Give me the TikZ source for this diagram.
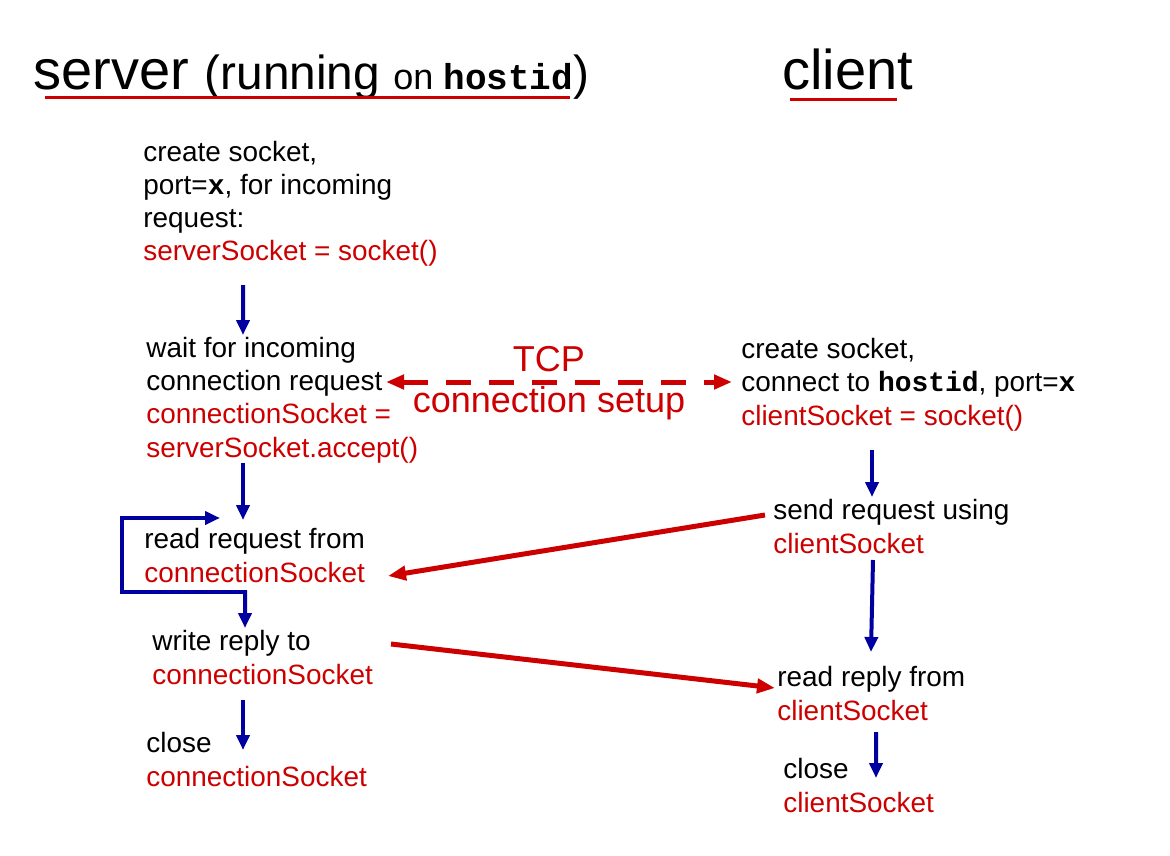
\documentclass[tikz,border=0pt]{standalone}
\usepackage{fontspec}
\setmainfont{Liberation Sans}
\setmonofont{Liberation Mono}
\usetikzlibrary{arrows.meta}

\definecolor{sockred}{RGB}{204,0,0}
\definecolor{flowblue}{RGB}{0,0,160}
\newcommand{\bodyfont}{\fontsize{15.9}{18.8}\selectfont}
\newcommand{\sk}[1]{\textcolor{sockred}{#1}}
\newcommand{\code}[1]{\textbf{\ttfamily #1}}

\begin{document}
\begin{tikzpicture}[every node/.style={font=\bodyfont, inner sep=0pt, anchor=base west, align=left},
  flow/.style={-{Triangle[length=0.3cm,width=0.26cm]}, draw=flowblue, line width=0.08cm},
  msg/.style={-{Triangle[length=0.36cm,width=0.28cm]}, draw=sockred, line width=0.1cm}]
  \useasboundingbox (0,0) rectangle (23.4,-17.12);

  % Titles
  \node (srv) at (0.66,-1.80) {\fontsize{31.9}{36}\selectfont server {\fontsize{27.2}{30}\selectfont (running {\fontsize{20.5}{24}\selectfont on \code{hostid}})}};
  \node (cli) at (15.64,-1.80) {\fontsize{31.9}{36}\selectfont client};
  \draw[sockred, line width=0.06cm] ([shift={(0.24,-0.16)}]srv.base west) -- ++(10.5,0);
  \draw[sockred, line width=0.06cm] ([shift={(0.16,-0.20)}]cli.base west) -- ++(2.14,0);

  % Server side (base = last line)
  \node (b1) at (2.86,-5.22) {create socket,\\port=\code{x}, for incoming\\request:\\\sk{serverSocket = socket()}};
  \node (b2) at (2.92,-9.14) {wait for incoming\\connection request\\\sk{connectionSocket =}\\\sk{serverSocket.accept()}};
  \node (b3) at (2.88,-11.64) {read request from\\\sk{connectionSocket}};
  \node (b4) at (3.04,-13.68) {write reply to\\\sk{connectionSocket}};
  \node (b5) at (2.92,-15.72) {close\\\sk{connectionSocket}};

  % Client side
  \node (c1) at (14.82,-8.50) {create socket,\\connect to \code{hostid}, port=\code{x}\\\sk{clientSocket = socket()}};
  \node (c2) at (15.46,-11.06) {send request using\\\sk{clientSocket}};
  \node (c3) at (15.54,-14.40) {read reply from\\\sk{clientSocket}};
  \node (c4) at (15.66,-16.24) {close\\\sk{clientSocket}};

  \node[anchor=base, align=center, text=sockred, font=\fontsize{20.5}{22.8}\selectfont] (tcp) at (10.98,-8.24) {TCP\\connection setup};

  \draw[flow] ([shift={(2.00,-0.48)}]b1.base west) -- ([shift={(1.94,2.44)}]b2.base west);
  \draw[flow] ([shift={(1.94,-0.12)}]b2.base west) -- ([shift={(1.98,1.24)}]b3.base west);
  \draw[flow] ([shift={(2.02,-0.20)}]b3.base west) -- ++(-2.46,0) |- ([shift={(1.52,1.28)}]b3.base west);
  \draw[flow] ([shift={(2.02,-0.16)}]b3.base west) -- ([shift={(1.86,1.12)}]b4.base west);
  \draw[flow] ([shift={(1.82,-0.32)}]b4.base west) -- ([shift={(1.94,0.72)}]b5.base west);

  \draw[flow] ([shift={(2.62,-0.50)}]c1.base west) -- ([shift={(1.98,1.12)}]c2.base west);
  \draw[flow] ([shift={(2.00,-0.14)}]c2.base west) -- ([shift={(1.88,1.36)}]c3.base west);
  \draw[flow] ([shift={(1.98,-0.24)}]c3.base west) -- ([shift={(1.86,0.68)}]c4.base west);

  % Connection
  \draw[msg, {Triangle[length=0.36cm,width=0.28cm]}-{Triangle[length=0.36cm,width=0.28cm]}, dash pattern=on 0.5cm off 0.36cm] ([shift={(4.80,1.50)}]b2.base west) -- ([shift={(-0.18,0.86)}]c1.base west);
  \draw[msg] ([shift={(-0.16,0.76)}]c2.base west) -- ([shift={(4.88,0.12)}]b3.base west);
  \draw[msg] ([shift={(4.78,0.80)}]b4.base west) -- ([shift={(-0.04,0.64)}]c3.base west);
\end{tikzpicture}
\end{document}
